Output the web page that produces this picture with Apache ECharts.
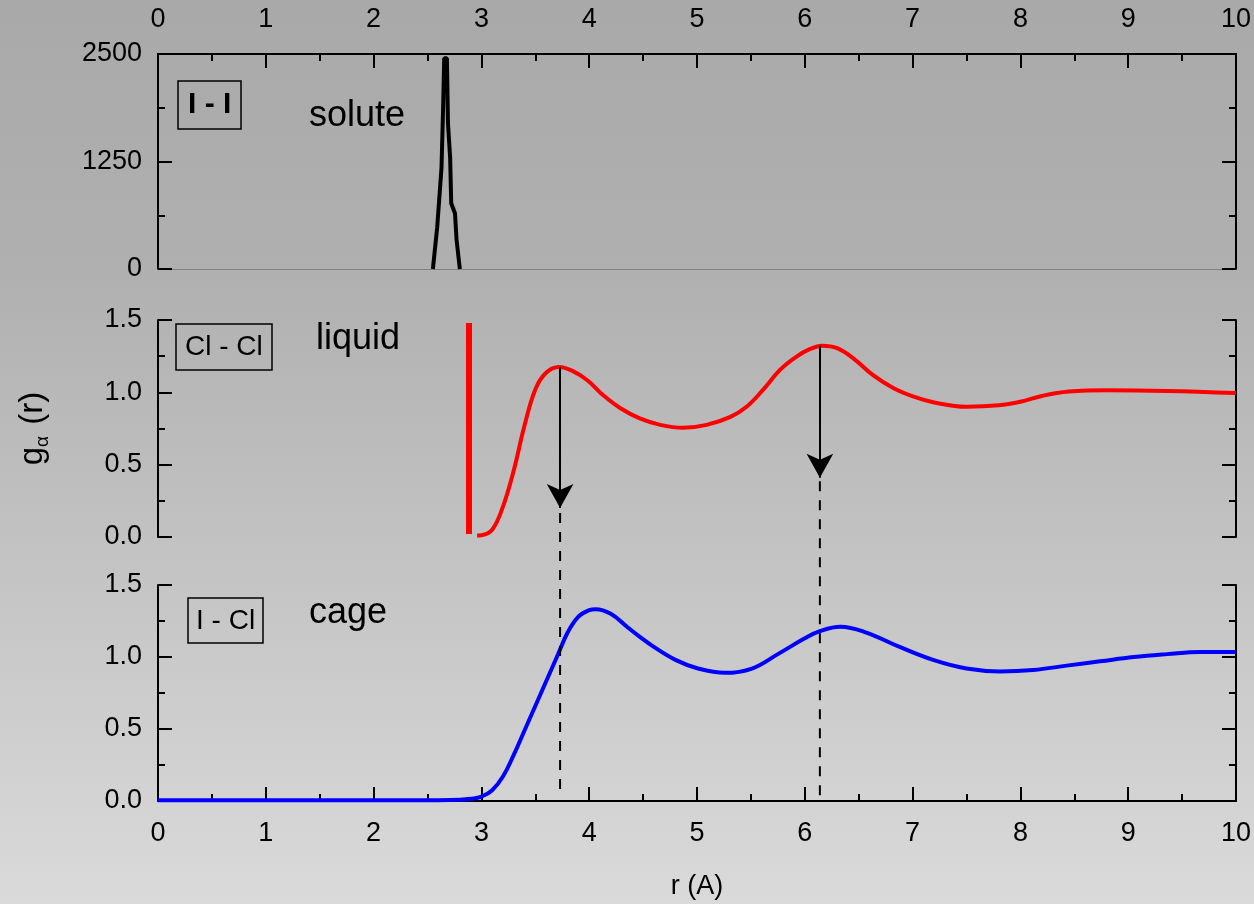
<!DOCTYPE html>
<html>
<head>
<meta charset="utf-8">
<script src="https://cdn.jsdelivr.net/npm/echarts@6/dist/echarts.min.js"></script>
<style>
  html, body { margin: 0; padding: 0; }
  #Chart { width: 1254px; height: 904px; }
</style>
</head>
<body>
<div id="Chart"></div>
<script>
// I - I solute peak [r, g]
const iiCurve = [
  [2.55, 0], [2.59, 486], [2.61, 833], [2.63, 1180], [2.645, 1875], [2.655, 2450],
  [2.68, 2450], [2.69, 1690], [2.71, 1296], [2.72, 764], [2.755, 648], [2.77, 336], [2.80, 0]
]

// Cl - Cl liquid
const clclWall = [[2.885, 0.02], [2.885, 1.48]]
const clclCurve = [
  [2.96, 0.01], [3.0, 0.012], [3.1, 0.05], [3.2, 0.21], [3.3, 0.46], [3.4, 0.77],
  [3.5, 1.02], [3.6, 1.135], [3.72, 1.175], [3.84, 1.15], [3.98, 1.085], [4.13, 0.98],
  [4.29, 0.89], [4.47, 0.82], [4.66, 0.775], [4.87, 0.755], [5.09, 0.775], [5.31, 0.83],
  [5.46, 0.9], [5.61, 1.015], [5.77, 1.155], [5.92, 1.245], [6.05, 1.3], [6.16, 1.322],
  [6.3, 1.305], [6.45, 1.235], [6.63, 1.12], [6.82, 1.03], [7.01, 0.97], [7.2, 0.93],
  [7.5, 0.9], [7.8, 0.91], [8.0, 0.935], [8.2, 0.975], [8.45, 1.005], [8.8, 1.015],
  [9.36, 1.01], [10, 0.995]
]

// I - Cl cage
const iclCurve = [
  [0, 0.005], [2.6, 0.005], [2.8, 0.008], [2.9, 0.015], [3.0, 0.03], [3.1, 0.075],
  [3.2, 0.17], [3.3, 0.32], [3.4, 0.49], [3.5, 0.66], [3.6, 0.83], [3.7, 1.0],
  [3.8, 1.17], [3.9, 1.28], [4.0, 1.325], [4.06, 1.332], [4.2, 1.3], [4.35, 1.21],
  [4.47, 1.14], [4.6, 1.07], [4.8, 0.98], [5.01, 0.92], [5.26, 0.89], [5.51, 0.92],
  [5.75, 1.02], [6.0, 1.13], [6.14, 1.18], [6.33, 1.21], [6.57, 1.17], [6.88, 1.07],
  [7.19, 0.98], [7.5, 0.92], [7.81, 0.9], [8.12, 0.91], [8.43, 0.94], [8.74, 0.97],
  [9.05, 1.0], [9.36, 1.02], [9.67, 1.035], [10, 1.035]
]

// arrows from the Cl-Cl peaks, and dashed guides down to the r axis
const arrowX = [3.73, 6.14]
const arrowFrom = [1.175, 1.322]
const arrowTo = [0.2, 0.41]
const dashFrom = [2.0, 2.22] // in I-Cl panel units
const dashTo = [0.02, 0.02]

const font = "Arial, 'Liberation Sans', Helvetica, sans-serif"
const black = "#000"

const chart = echarts.init(document.getElementById("Chart"), null, { renderer: "canvas" })

const tickAxis = (extra) => Object.assign({
  axisLine: { show: true, onZero: false, lineStyle: { color: black, width: 2 } },
  axisTick: { show: true, inside: true, length: 14, lineStyle: { color: black, width: 2 } },
  minorTick: { show: true, splitNumber: 2, length: 7, lineStyle: { color: black, width: 2 } },
  splitLine: { show: false },
  axisLabel: { show: false }
}, extra)

const xLabel = { show: true, color: black, fontSize: 27, fontFamily: font, margin: 19 }
const yLabel = (fmt) => ({ show: true, color: black, fontSize: 27, fontFamily: font, margin: 16, formatter: fmt })
const oneDec = (v) => v.toFixed(1)
const plain = (v) => String(v)

const grids = [
  { left: 158, right: 18, top: 54, height: 215 },
  { left: 158, right: 18, top: 320, height: 217 },
  { left: 158, right: 18, top: 585, height: 216 }
]

const xAxes = [
  tickAxis({ gridIndex: 0, type: "value", position: "top", min: 0, max: 10, interval: 1,
    axisLabel: Object.assign({}, xLabel, { margin: 21 }) }),
  { gridIndex: 0, type: "value", position: "bottom", min: 0, max: 10,
    axisLine: { show: true, onZero: false, lineStyle: { color: "#808080", width: 1 } },
    axisTick: { show: false }, axisLabel: { show: false }, splitLine: { show: false } },
  { gridIndex: 1, type: "value", min: 0, max: 10, show: false },
  tickAxis({ gridIndex: 2, type: "value", position: "bottom", min: 0, max: 10, interval: 1, axisLabel: xLabel,
    name: "r (A)", nameLocation: "middle", nameGap: 72,
    nameTextStyle: { color: black, fontSize: 27, fontFamily: font } })
]

const yAxes = [
  tickAxis({ gridIndex: 0, type: "value", position: "left", min: 0, max: 2500, interval: 1250, axisLabel: yLabel(plain) }),
  tickAxis({ gridIndex: 0, type: "value", position: "right", min: 0, max: 2500, interval: 1250 }),
  tickAxis({ gridIndex: 1, type: "value", position: "left", min: 0, max: 1.5, interval: 0.5, axisLabel: yLabel(oneDec),
    name: "g{a|α} (r)", nameLocation: "middle", nameRotate: 90, nameGap: 106,
    nameTextStyle: {
      color: black, fontSize: 33, fontFamily: font,
      rich: { a: { fontSize: 19, fontFamily: font, color: black, padding: [20, 2, 0, 0] } }
    } }),
  tickAxis({ gridIndex: 1, type: "value", position: "right", min: 0, max: 1.5, interval: 0.5 }),
  tickAxis({ gridIndex: 2, type: "value", position: "left", min: 0, max: 1.5, interval: 0.5, axisLabel: yLabel(oneDec) }),
  tickAxis({ gridIndex: 2, type: "value", position: "right", min: 0, max: 1.5, interval: 0.5 })
]

const boxText = (text, left, top, pad, bold, size) => ({
  text, left, top, padding: pad,
  borderColor: black, borderWidth: 1.5,
  textStyle: { color: black, fontSize: size, fontFamily: font, fontWeight: bold ? "bold" : "normal" }
})
const plainText = (text, left, top) => ({
  text, left, top, padding: 0,
  textStyle: { color: black, fontSize: 36, fontFamily: font, fontWeight: "normal" }
})

const arrows = arrowX.map((x, i) => [
  { coord: [x, arrowFrom[i]] },
  { coord: [x, arrowTo[i]] }
])

const series = [
  { name: "I-I", type: "line", xAxisIndex: 0, yAxisIndex: 0, showSymbol: false,
    lineStyle: { color: black, width: 4 }, data: iiCurve },
  { name: "Cl-Cl wall", type: "line", xAxisIndex: 2, yAxisIndex: 2, showSymbol: false,
    lineStyle: { color: "#ff0000", width: 6, cap: "butt" }, data: clclWall },
  { name: "Cl-Cl", type: "line", xAxisIndex: 2, yAxisIndex: 2, showSymbol: false, smooth: 0.4,
    lineStyle: { color: "#ff0000", width: 4 }, data: clclCurve,
    markLine: {
      silent: true, symbol: ["none", "arrow"], symbolSize: [20, 24], precision: 3,
      label: { show: false }, lineStyle: { color: black, width: 2, type: "solid" },
      emphasis: { disabled: true }, data: arrows
    } },
  { name: "I-Cl", type: "line", xAxisIndex: 3, yAxisIndex: 4, showSymbol: false, smooth: 0.4,
    lineStyle: { color: "#0000ff", width: 4 }, data: iclCurve }
]
arrowX.forEach((x, i) => {
  series.push({
    name: "guide" + i, type: "line", xAxisIndex: 3, yAxisIndex: 4, showSymbol: false, clip: false,
    lineStyle: { color: black, width: 2, type: [10, 9] },
    data: [[x, dashFrom[i]], [x, dashTo[i]]]
  })
})

const option = {
  animation: false,
  backgroundColor: new echarts.graphic.LinearGradient(0, 0, 0, 1, [
    { offset: 0, color: "#a9a9a9" },
    { offset: 0.3, color: "#b0b0b0" },
    { offset: 1, color: "#dadada" }
  ]),
  textStyle: { fontFamily: font },
  title: [
    boxText("I - I", 178, 81, [9, 10, 9, 10], true, 30),
    plainText("solute", 309, 98),
    boxText("Cl - Cl", 176, 324, [9, 9, 9, 9], false, 28),
    plainText("liquid", 316, 321),
    boxText("I - Cl", 188, 598, [9, 8, 8, 8], false, 28),
    plainText("cage", 309, 595)
  ],
  grid: grids,
  xAxis: xAxes,
  yAxis: yAxes,
  series
}
chart.setOption(option)
</script>
</body>
</html>
